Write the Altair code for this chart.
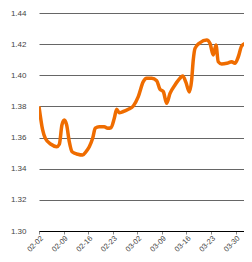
import altair as alt
import pandas as pd

times = [
    "2014-02-02 00:00", "2014-02-03 01:00", "2014-02-03 19:00", "2014-02-05 10:00",
    "2014-02-07 01:00", "2014-02-07 19:00", "2014-02-08 13:00", "2014-02-09 05:00",
    "2014-02-09 21:00", "2014-02-10 15:00", "2014-02-11 10:00", "2014-02-13 01:00",
    "2014-02-14 11:00", "2014-02-15 09:00", "2014-02-16 08:00", "2014-02-17 07:00",
    "2014-02-18 01:00", "2014-02-19 04:00", "2014-02-20 14:00", "2014-02-21 14:00",
    "2014-02-22 12:00", "2014-02-23 11:00", "2014-02-24 03:00", "2014-02-24 21:00",
    "2014-02-25 20:00", "2014-02-27 11:00", "2014-02-28 21:00", "2014-03-02 07:00",
    "2014-03-03 17:00", "2014-03-04 16:00", "2014-03-06 03:00", "2014-03-07 13:00",
    "2014-03-08 11:00", "2014-03-09 10:00", "2014-03-10 09:00", "2014-03-11 08:00",
    "2014-03-12 18:00", "2014-03-14 04:00", "2014-03-14 23:00", "2014-03-15 21:00",
    "2014-03-16 20:00", "2014-03-17 12:00", "2014-03-17 23:00", "2014-03-18 11:00",
    "2014-03-19 21:00", "2014-03-21 19:00", "2014-03-22 17:00", "2014-03-23 16:00",
    "2014-03-24 10:00", "2014-03-25 02:00", "2014-03-26 01:00", "2014-03-27 12:00",
    "2014-03-28 22:00", "2014-03-29 20:00", "2014-03-30 19:00", "2014-03-31 18:00",
    "2014-04-02 04:00", "2014-04-03 14:00", "2014-04-05 00:00",
]
values = [
    1.3800, 1.3649, 1.3595, 1.3557,
    1.3541, 1.3557, 1.3681, 1.3713,
    1.3681, 1.3574, 1.3509, 1.3493,
    1.3488, 1.3509, 1.3541, 1.3595,
    1.3660, 1.3670, 1.3670, 1.3660,
    1.3663, 1.3724, 1.3782, 1.3760,
    1.3766, 1.3782, 1.3803, 1.3863,
    1.3959, 1.3981, 1.3981, 1.3965,
    1.3910, 1.3895, 1.3820, 1.3884,
    1.3938, 1.3981, 1.3996, 1.3954,
    1.3893, 1.3970, 1.4098, 1.4173,
    1.4209, 1.4227, 1.4206, 1.4130,
    1.4195, 1.4087, 1.4073, 1.4077,
    1.4087, 1.4077, 1.4119, 1.4188,
    1.4209, 1.4220, 1.4225,
]
y_ticks = [1.30, 1.32, 1.34, 1.36, 1.38, 1.40, 1.42, 1.44]
x_domain = ["2014-02-02 00:00", "2014-04-01 10:00"]

df = pd.DataFrame({"t": times, "v": values})

line = alt.Chart(df).mark_line(
    color="#ef6c00", strokeWidth=3.5, interpolate="monotone", clip=True
).encode(
    x=alt.X(
        "t:T",
        scale=alt.Scale(domain=x_domain),
        axis=alt.Axis(
            title=None, format="%m-%d", labelAngle=315, grid=False,
            domainColor="#000000", domainWidth=1, tickColor="#888888", tickSize=3,
            labelPadding=0,
            labelFont="Liberation Sans", labelFontSize=7.5, labelColor="#444444",
            tickCount={"interval": "week", "step": 1},
        ),
    ),
    y=alt.Y(
        "v:Q",
        scale=alt.Scale(domain=[1.30, 1.44], nice=False, zero=False),
        axis=alt.Axis(
            title=None, values=y_ticks, format=".2f", ticks=False, domain=False,
            gridColor="#666666", gridWidth=1, labelPadding=13,
            labelFont="Liberation Sans", labelFontSize=8, labelColor="#444444",
        ),
    ),
)

chart = line.properties(
    width=205, height=218,
    autosize=alt.AutoSizeParams(type="none"),
    padding={"left": 31, "top": 5, "right": 0, "bottom": 23},
).configure_view(stroke=None)

chart.save("out.html", embed_options={"renderer": "svg", "actions": False})
